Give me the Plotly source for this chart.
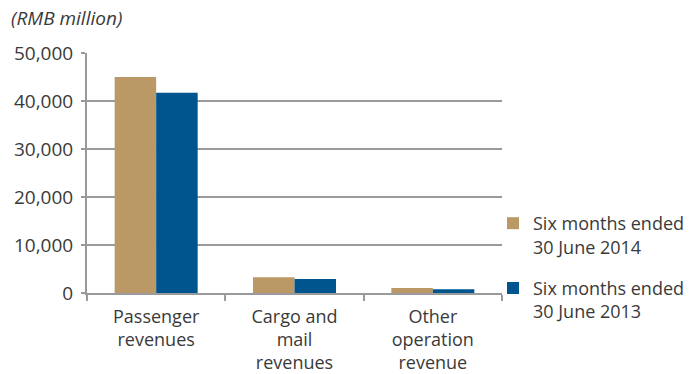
import plotly.graph_objects as go

categories = ["Passenger<br>revenues", "Cargo and<br>mail<br>revenues", "Other<br>operation<br>revenue"]
series_names = ["Six months ended<br>30 June 2014", "Six months ended<br>30 June 2013"]
values_2014 = [45000, 3300, 1050]
values_2013 = [41700, 2900, 800]
y_ticks = [0, 10000, 20000, 30000, 40000, 50000]
y_tick_labels = ["0", "10,000", "20,000", "30,000", "40,000", "50,000"]

TAN = "#BB9967"
BLUE = "#01558F"
GRID = "#9A9A9C"
TEXT = "#3A3A3A"
FONT = "Open Sans"

fig = go.Figure()
fig.add_trace(go.Bar(x=categories, y=values_2014, name=series_names[0],
                     legendgroup="y2014",
                     marker=dict(color=TAN, line=dict(width=0))))
fig.add_trace(go.Bar(x=categories, y=values_2013, name=series_names[1],
                     legendgroup="y2013",
                     marker=dict(color=BLUE, line=dict(width=0))))

fig.update_layout(
    width=697, height=374,
    margin=dict(l=87, r=195, t=53, b=81, autoexpand=False),
    paper_bgcolor="white", plot_bgcolor="white",
    barmode="group", bargap=0.4, bargroupgap=0,
    font=dict(family=FONT, size=18, color=TEXT),
    legend=dict(
        x=(493 - 87) / 415, y=(293 - 205) / 240, xanchor="left", yanchor="top",
        font=dict(family=FONT, size=18, color=TEXT),
        traceorder="grouped", tracegroupgap=15, itemwidth=30, valign="top",
        bgcolor="rgba(0,0,0,0)",
    ),
    showlegend=True,
)

fig.update_yaxes(
    range=[0, 50000], tickvals=y_ticks, ticktext=y_tick_labels,
    showgrid=True, gridcolor=GRID, gridwidth=2,
    zeroline=False,
    showline=True, linecolor=GRID, linewidth=2,
    ticks="outside", ticklen=4, tickcolor=GRID, tickwidth=2,
    ticklabelstandoff=4,
    tickfont=dict(family=FONT, size=19, color=TEXT),
)
fig.update_xaxes(
    showline=True, linecolor=GRID, linewidth=2,
    ticks="outside", tickson="boundaries", ticklen=6, tickcolor=GRID, tickwidth=2,
    ticklabelstandoff=6,
    tickfont=dict(family=FONT, size=18, color=TEXT),
)

fig.add_annotation(
    text="<i>(RMB million)</i>", xref="paper", yref="paper",
    x=(9 - 87) / 415, y=1 + 35 / 240, xanchor="left", yanchor="middle",
    showarrow=False, font=dict(family=FONT, size=19, color=TEXT),
)

fig.write_html("out.html")
